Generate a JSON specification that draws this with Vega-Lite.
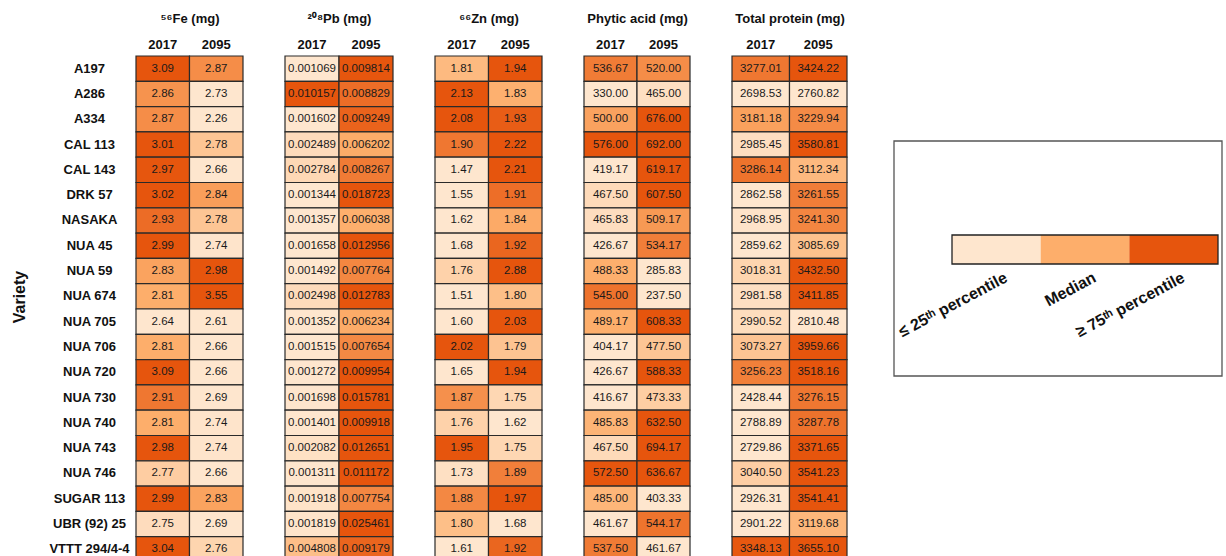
{
  "$schema": "https://vega.github.io/schema/vega-lite/v6.json",
  "padding": {"left": 11, "top": 12, "right": 0, "bottom": 0},
  "background": "white",
  "datasets": {
    "fe": [
      {"Variety": "A197", "2017": 3.09, "2095": 2.87},
      {"Variety": "A286", "2017": 2.86, "2095": 2.73},
      {"Variety": "A334", "2017": 2.87, "2095": 2.26},
      {"Variety": "CAL 113", "2017": 3.01, "2095": 2.78},
      {"Variety": "CAL 143", "2017": 2.97, "2095": 2.66},
      {"Variety": "DRK 57", "2017": 3.02, "2095": 2.84},
      {"Variety": "NASAKA", "2017": 2.93, "2095": 2.78},
      {"Variety": "NUA 45", "2017": 2.99, "2095": 2.74},
      {"Variety": "NUA 59", "2017": 2.83, "2095": 2.98},
      {"Variety": "NUA 674", "2017": 2.81, "2095": 3.55},
      {"Variety": "NUA 705", "2017": 2.64, "2095": 2.61},
      {"Variety": "NUA 706", "2017": 2.81, "2095": 2.66},
      {"Variety": "NUA 720", "2017": 3.09, "2095": 2.66},
      {"Variety": "NUA 730", "2017": 2.91, "2095": 2.69},
      {"Variety": "NUA 740", "2017": 2.81, "2095": 2.74},
      {"Variety": "NUA 743", "2017": 2.98, "2095": 2.74},
      {"Variety": "NUA 746", "2017": 2.77, "2095": 2.66},
      {"Variety": "SUGAR 113", "2017": 2.99, "2095": 2.83},
      {"Variety": "UBR (92) 25", "2017": 2.75, "2095": 2.69},
      {"Variety": "VTTT 294/4-4", "2017": 3.04, "2095": 2.76}
    ],
    "pb": [
      {"Variety": "A197", "2017": 0.001069, "2095": 0.009814},
      {"Variety": "A286", "2017": 0.010157, "2095": 0.008829},
      {"Variety": "A334", "2017": 0.001602, "2095": 0.009249},
      {"Variety": "CAL 113", "2017": 0.002489, "2095": 0.006202},
      {"Variety": "CAL 143", "2017": 0.002784, "2095": 0.008267},
      {"Variety": "DRK 57", "2017": 0.001344, "2095": 0.018723},
      {"Variety": "NASAKA", "2017": 0.001357, "2095": 0.006038},
      {"Variety": "NUA 45", "2017": 0.001658, "2095": 0.012956},
      {"Variety": "NUA 59", "2017": 0.001492, "2095": 0.007764},
      {"Variety": "NUA 674", "2017": 0.002498, "2095": 0.012783},
      {"Variety": "NUA 705", "2017": 0.001352, "2095": 0.006234},
      {"Variety": "NUA 706", "2017": 0.001515, "2095": 0.007654},
      {"Variety": "NUA 720", "2017": 0.001272, "2095": 0.009954},
      {"Variety": "NUA 730", "2017": 0.001698, "2095": 0.015781},
      {"Variety": "NUA 740", "2017": 0.001401, "2095": 0.009918},
      {"Variety": "NUA 743", "2017": 0.002082, "2095": 0.012651},
      {"Variety": "NUA 746", "2017": 0.001311, "2095": 0.011172},
      {"Variety": "SUGAR 113", "2017": 0.001918, "2095": 0.007754},
      {"Variety": "UBR (92) 25", "2017": 0.001819, "2095": 0.025461},
      {"Variety": "VTTT 294/4-4", "2017": 0.004808, "2095": 0.009179}
    ],
    "zn": [
      {"Variety": "A197", "2017": 1.81, "2095": 1.94},
      {"Variety": "A286", "2017": 2.13, "2095": 1.83},
      {"Variety": "A334", "2017": 2.08, "2095": 1.93},
      {"Variety": "CAL 113", "2017": 1.90, "2095": 2.22},
      {"Variety": "CAL 143", "2017": 1.47, "2095": 2.21},
      {"Variety": "DRK 57", "2017": 1.55, "2095": 1.91},
      {"Variety": "NASAKA", "2017": 1.62, "2095": 1.84},
      {"Variety": "NUA 45", "2017": 1.68, "2095": 1.92},
      {"Variety": "NUA 59", "2017": 1.76, "2095": 2.88},
      {"Variety": "NUA 674", "2017": 1.51, "2095": 1.80},
      {"Variety": "NUA 705", "2017": 1.60, "2095": 2.03},
      {"Variety": "NUA 706", "2017": 2.02, "2095": 1.79},
      {"Variety": "NUA 720", "2017": 1.65, "2095": 1.94},
      {"Variety": "NUA 730", "2017": 1.87, "2095": 1.75},
      {"Variety": "NUA 740", "2017": 1.76, "2095": 1.62},
      {"Variety": "NUA 743", "2017": 1.95, "2095": 1.75},
      {"Variety": "NUA 746", "2017": 1.73, "2095": 1.89},
      {"Variety": "SUGAR 113", "2017": 1.88, "2095": 1.97},
      {"Variety": "UBR (92) 25", "2017": 1.80, "2095": 1.68},
      {"Variety": "VTTT 294/4-4", "2017": 1.61, "2095": 1.92}
    ],
    "phy": [
      {"Variety": "A197", "2017": 536.67, "2095": 520.00},
      {"Variety": "A286", "2017": 330.00, "2095": 465.00},
      {"Variety": "A334", "2017": 500.00, "2095": 676.00},
      {"Variety": "CAL 113", "2017": 576.00, "2095": 692.00},
      {"Variety": "CAL 143", "2017": 419.17, "2095": 619.17},
      {"Variety": "DRK 57", "2017": 467.50, "2095": 607.50},
      {"Variety": "NASAKA", "2017": 465.83, "2095": 509.17},
      {"Variety": "NUA 45", "2017": 426.67, "2095": 534.17},
      {"Variety": "NUA 59", "2017": 488.33, "2095": 285.83},
      {"Variety": "NUA 674", "2017": 545.00, "2095": 237.50},
      {"Variety": "NUA 705", "2017": 489.17, "2095": 608.33},
      {"Variety": "NUA 706", "2017": 404.17, "2095": 477.50},
      {"Variety": "NUA 720", "2017": 426.67, "2095": 588.33},
      {"Variety": "NUA 730", "2017": 416.67, "2095": 473.33},
      {"Variety": "NUA 740", "2017": 485.83, "2095": 632.50},
      {"Variety": "NUA 743", "2017": 467.50, "2095": 694.17},
      {"Variety": "NUA 746", "2017": 572.50, "2095": 636.67},
      {"Variety": "SUGAR 113", "2017": 485.00, "2095": 403.33},
      {"Variety": "UBR (92) 25", "2017": 461.67, "2095": 544.17},
      {"Variety": "VTTT 294/4-4", "2017": 537.50, "2095": 461.67}
    ],
    "prot": [
      {"Variety": "A197", "2017": 3277.01, "2095": 3424.22},
      {"Variety": "A286", "2017": 2698.53, "2095": 2760.82},
      {"Variety": "A334", "2017": 3181.18, "2095": 3229.94},
      {"Variety": "CAL 113", "2017": 2985.45, "2095": 3580.81},
      {"Variety": "CAL 143", "2017": 3286.14, "2095": 3112.34},
      {"Variety": "DRK 57", "2017": 2862.58, "2095": 3261.55},
      {"Variety": "NASAKA", "2017": 2968.95, "2095": 3241.30},
      {"Variety": "NUA 45", "2017": 2859.62, "2095": 3085.69},
      {"Variety": "NUA 59", "2017": 3018.31, "2095": 3432.50},
      {"Variety": "NUA 674", "2017": 2981.58, "2095": 3411.85},
      {"Variety": "NUA 705", "2017": 2990.52, "2095": 2810.48},
      {"Variety": "NUA 706", "2017": 3073.27, "2095": 3959.66},
      {"Variety": "NUA 720", "2017": 3256.23, "2095": 3518.16},
      {"Variety": "NUA 730", "2017": 2428.44, "2095": 3276.15},
      {"Variety": "NUA 740", "2017": 2788.89, "2095": 3287.78},
      {"Variety": "NUA 743", "2017": 2729.86, "2095": 3371.65},
      {"Variety": "NUA 746", "2017": 3040.50, "2095": 3541.23},
      {"Variety": "SUGAR 113", "2017": 2926.31, "2095": 3541.41},
      {"Variety": "UBR (92) 25", "2017": 2901.22, "2095": 3119.68},
      {"Variety": "VTTT 294/4-4", "2017": 3348.13, "2095": 3655.10}
    ],
    "legendLevels": [
      {"Level": "≤ 25ᵗʰ percentile", "Key": "scale"},
      {"Level": "Median", "Key": "scale"},
      {"Level": "≥ 75ᵗʰ percentile", "Key": "scale"}
    ],
    "legendBox": [{"Key": "scale"}]
  },
  "spacing": 40,
  "resolve": {"scale": {"color": "independent"}},
  "hconcat": [
    {
      "width": 107, "height": 506,
      "data": {"name": "fe"},
      "transform": [{"fold": ["2017", "2095"], "as": ["Year", "Value"]}],
      "encoding": {
        "x": {"field": "Year", "type": "nominal", "sort": ["2017", "2095"], "scale": {"type": "band", "paddingInner": 0, "paddingOuter": 0}, "axis": {"orient": "top", "title": "⁵⁶Fe (mg)", "labelAngle": 0, "labelPadding": 5, "titlePadding": 13}},
        "y": {"field": "Variety", "type": "nominal", "sort": null, "scale": {"type": "band", "paddingInner": 0, "paddingOuter": 0}, "axis": {"title": "Variety", "labelAlign": "center", "labelPadding": 47, "titleFontSize": 16, "titleX": -111.5, "titleY": 240.5, "titleAngle": 270, "titleBaseline": "alphabetic", "titleAlign": "center"}}
      },
      "layer": [
        {"mark": {"type": "rect", "stroke": "#2a2a2a", "strokeWidth": 1.2}, "encoding": {"color": {"field": "Value", "type": "quantitative", "scale": {"domain": [2.7375, 2.81, 2.9725], "range": ["#fee6ce", "#fdae6b", "#e6550d"], "clamp": true, "interpolate": "rgb"}, "legend": null}}},
        {"mark": {"type": "text", "fontSize": 11.5, "color": "#1a1a1a"}, "encoding": {"text": {"field": "Value", "type": "quantitative", "format": ".2f"}}}
      ]
    },
    {
      "width": 108, "height": 506,
      "data": {"name": "pb"},
      "transform": [{"fold": ["2017", "2095"], "as": ["Year", "Value"]}],
      "encoding": {
        "x": {"field": "Year", "type": "nominal", "sort": ["2017", "2095"], "scale": {"type": "band", "paddingInner": 0, "paddingOuter": 0}, "axis": {"orient": "top", "title": "²⁰⁸Pb (mg)", "labelAngle": 0, "labelPadding": 5, "titlePadding": 13}},
        "y": {"field": "Variety", "type": "nominal", "sort": null, "scale": {"type": "band", "paddingInner": 0, "paddingOuter": 0}, "axis": null}
      },
      "layer": [
        {"mark": {"type": "rect", "stroke": "#2a2a2a", "strokeWidth": 1.2}, "encoding": {"color": {"field": "Value", "type": "quantitative", "scale": {"domain": [0.001644, 0.00612, 0.00984], "range": ["#fee6ce", "#fdae6b", "#e6550d"], "clamp": true, "interpolate": "rgb"}, "legend": null}}},
        {"mark": {"type": "text", "fontSize": 11.5, "color": "#1a1a1a"}, "encoding": {"text": {"field": "Value", "type": "quantitative", "format": ".6f"}}}
      ]
    },
    {
      "width": 107, "height": 506,
      "data": {"name": "zn"},
      "transform": [{"fold": ["2017", "2095"], "as": ["Year", "Value"]}],
      "encoding": {
        "x": {"field": "Year", "type": "nominal", "sort": ["2017", "2095"], "scale": {"type": "band", "paddingInner": 0, "paddingOuter": 0}, "axis": {"orient": "top", "title": "⁶⁶Zn (mg)", "labelAngle": 0, "labelPadding": 5, "titlePadding": 13}},
        "y": {"field": "Variety", "type": "nominal", "sort": null, "scale": {"type": "band", "paddingInner": 0, "paddingOuter": 0}, "axis": null}
      },
      "layer": [
        {"mark": {"type": "rect", "stroke": "#2a2a2a", "strokeWidth": 1.2}, "encoding": {"color": {"field": "Value", "type": "quantitative", "scale": {"domain": [1.7175, 1.835, 1.94], "range": ["#fee6ce", "#fdae6b", "#e6550d"], "clamp": true, "interpolate": "rgb"}, "legend": null}}},
        {"mark": {"type": "text", "fontSize": 11.5, "color": "#1a1a1a"}, "encoding": {"text": {"field": "Value", "type": "quantitative", "format": ".2f"}}}
      ]
    },
    {
      "width": 106, "height": 506,
      "data": {"name": "phy"},
      "transform": [{"fold": ["2017", "2095"], "as": ["Year", "Value"]}],
      "encoding": {
        "x": {"field": "Year", "type": "nominal", "sort": ["2017", "2095"], "scale": {"type": "band", "paddingInner": 0, "paddingOuter": 0}, "axis": {"orient": "top", "title": "Phytic acid (mg)", "labelAngle": 0, "labelPadding": 5, "titlePadding": 13}},
        "y": {"field": "Variety", "type": "nominal", "sort": null, "scale": {"type": "band", "paddingInner": 0, "paddingOuter": 0}, "axis": null}
      },
      "layer": [
        {"mark": {"type": "rect", "stroke": "#2a2a2a", "strokeWidth": 1.2}, "encoding": {"color": {"field": "Value", "type": "quantitative", "scale": {"domain": [461.67, 488.75, 573.375], "range": ["#fee6ce", "#fdae6b", "#e6550d"], "clamp": true, "interpolate": "rgb"}, "legend": null}}},
        {"mark": {"type": "text", "fontSize": 11.5, "color": "#1a1a1a"}, "encoding": {"text": {"field": "Value", "type": "quantitative", "format": ".2f"}}}
      ]
    },
    {
      "width": 115, "height": 506,
      "data": {"name": "prot"},
      "transform": [{"fold": ["2017", "2095"], "as": ["Year", "Value"]}],
      "encoding": {
        "x": {"field": "Year", "type": "nominal", "sort": ["2017", "2095"], "scale": {"type": "band", "paddingInner": 0, "paddingOuter": 0}, "axis": {"orient": "top", "title": "Total protein (mg)", "labelAngle": 0, "labelPadding": 5, "titlePadding": 13}},
        "y": {"field": "Variety", "type": "nominal", "sort": null, "scale": {"type": "band", "paddingInner": 0, "paddingOuter": 0}, "axis": null}
      },
      "layer": [
        {"mark": {"type": "rect", "stroke": "#2a2a2a", "strokeWidth": 1.2}, "encoding": {"color": {"field": "Value", "type": "quantitative", "scale": {"domain": [2958.29, 3150.43, 3354.01], "range": ["#fee6ce", "#fdae6b", "#e6550d"], "clamp": true, "interpolate": "rgb"}, "legend": null}}},
        {"mark": {"type": "text", "fontSize": 11.5, "color": "#1a1a1a"}, "encoding": {"text": {"field": "Value", "type": "quantitative", "format": ".2f"}}}
      ]
    },
    {
      "width": 334, "height": 320,
      "resolve": {"scale": {"x": "independent", "y": "independent"}},
      "layer": [
        {
          "data": {"name": "legendBox"},
          "mark": {"type": "rect", "filled": false, "stroke": "#555555", "strokeWidth": 1.3},
          "encoding": {
            "x": {"field": "Key", "type": "nominal", "scale": {"type": "band", "paddingInner": 0, "paddingOuter": 0.009146, "align": 1}, "axis": null},
            "y": {"field": "Key", "type": "nominal", "scale": {"type": "band", "paddingInner": 0, "paddingOuter": 0.18085, "align": 1}, "axis": null}
          }
        },
        {
          "data": {"name": "legendLevels"},
          "mark": {"type": "rect"},
          "encoding": {
            "x": {"field": "Level", "type": "nominal", "sort": null, "scale": {"type": "band", "paddingInner": 0, "paddingOuter": 0.38346, "align": 0.941176}, "axis": null},
            "y": {"field": "Key", "type": "nominal", "scale": {"type": "band", "paddingInner": 0.80069, "paddingOuter": 1, "align": 0.61512}, "axis": null},
            "color": {"field": "Level", "type": "nominal", "sort": null, "scale": {"domain": ["≤ 25ᵗʰ percentile", "Median", "≥ 75ᵗʰ percentile"], "range": ["#fee6ce", "#fdae6b", "#e6550d"]}, "legend": null}
          }
        },
        {
          "data": {"name": "legendBox"},
          "mark": {"type": "rect", "filled": false, "stroke": "#222222", "strokeWidth": 1.3},
          "encoding": {
            "x": {"field": "Key", "type": "nominal", "scale": {"type": "band", "paddingInner": 0, "paddingOuter": 0.12782, "align": 0.941176}, "axis": null},
            "y": {"field": "Key", "type": "nominal", "scale": {"type": "band", "paddingInner": 0.80069, "paddingOuter": 1, "align": 0.61512}, "axis": null}
          }
        },
        {
          "data": {"name": "legendLevels"},
          "mark": {"type": "text", "align": "right", "baseline": "top", "angle": 332, "dx": -4, "dy": 20.5, "fontSize": 16, "fontWeight": "bold", "color": "#111111"},
          "encoding": {
            "x": {"field": "Level", "type": "nominal", "sort": null, "scale": {"type": "band", "paddingInner": 0, "paddingOuter": 0.38346, "align": 0.941176}, "axis": null},
            "y": {"field": "Key", "type": "nominal", "scale": {"type": "band", "paddingInner": 0.80069, "paddingOuter": 1, "align": 0.61512}, "axis": null},
            "text": {"field": "Level", "type": "nominal"}
          }
        }
      ]
    }
  ],
  "config": {
    "view": {"stroke": null},
    "font": "Liberation Sans",
    "axis": {"domain": false, "ticks": false, "tickSize": 0, "grid": false, "labelFontWeight": "bold", "labelFontSize": 13, "labelColor": "#111111", "titleFontWeight": "bold", "titleFontSize": 13, "titleColor": "#111111"}
  }
}
